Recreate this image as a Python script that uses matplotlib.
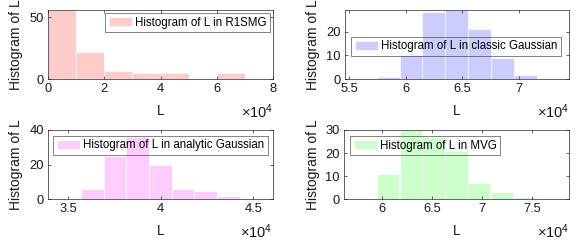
import numpy as np
import matplotlib
matplotlib.use("Agg")
import matplotlib.pyplot as plt
from matplotlib.ticker import FuncFormatter

plt.rcParams['font.family'] = ['Liberation Sans', 'DejaVu Sans']
plt.rcParams['mathtext.fontset'] = 'custom'
plt.rcParams['mathtext.rm'] = 'Liberation Sans'
plt.rcParams['mathtext.it'] = 'Liberation Sans'

# ---- data ----
r1smg_edges = [0, 10000, 20000, 30000, 40000, 50000, 60000, 70000]
r1smg_counts = [56, 22, 7, 5, 5, 0, 5]

classic_edges = [57450, 59470, 61480, 63500, 65510, 67530, 69540, 71560]
classic_counts = [1, 10, 28, 29, 21, 9, 2]

analytic_edges = [35690, 36920, 38140, 39370, 40590, 41820, 43050, 44280]
analytic_counts = [6, 25, 36, 20, 6, 5, 2]

mvg_edges = [59440, 61720, 63990, 66270, 68540, 70820, 73100, 75370]
mvg_counts = [11, 30, 27, 21, 7, 3, 1]

labels = ["Histogram of L in R1SMG", "Histogram of L in classic Gaussian",
          "Histogram of L in analytic Gaussian", "Histogram of L in MVG"]

xticks = [[0, 20000, 40000, 60000, 80000],
          [55000, 60000, 65000, 70000],
          [35000, 40000, 45000],
          [60000, 65000, 70000, 75000]]
yticks = [[0, 50], [0, 10, 20], [0, 20, 40], [0, 10, 20, 30]]
xlims = [(0, 80000), (54620, 74420), (33920, 46050), (56170, 78700)]
ylims = [(0, 56), (0, 29), (0, 40), (0, 30)]

colors = [(1, 0.8, 0.8), (0.8, 0.8, 1), (1, 0.8, 1), (0.8, 1, 0.8)]

W, H = 586, 246
fig = plt.figure(figsize=(W / 100, H / 100), dpi=100)

# axes boxes in pixels: left, top, right, bottom
boxes = [(48, 10, 273, 79.3), (344.7, 10, 569, 79.3),
         (48.3, 130, 272.7, 199.3), (344, 130, 569.3, 199.3)]
ylab_right = [23.5, 320.0, 23.5, 320.0]
# legend anchors in axes coords
leg_specs = [("upper right", (0.987, 0.952)), ("upper left", (0.029, 0.615)),
             ("upper left", (0.022, 0.913)), ("upper left", (0.028, 0.909))]

edges_all = [r1smg_edges, classic_edges, analytic_edges, mvg_edges]
counts_all = [r1smg_counts, classic_counts, analytic_counts, mvg_counts]

fmt = FuncFormatter(lambda v, p: "%g" % (v / 1e4))
axcol = (0.15, 0.15, 0.15)
txtcol = (0.1, 0.1, 0.1)

for i in range(4):
    l, t, r, b = boxes[i]
    ax = fig.add_axes([l / W, (H - b) / H, (r - l) / W, (b - t) / H])
    e = np.array(edges_all[i], dtype=float)
    ax.bar(e[:-1], counts_all[i], width=np.diff(e), align='edge',
           color=colors[i], edgecolor=(1, 1, 1, 0.8), linewidth=0.6,
           label=labels[i])
    ax.set_xlim(*xlims[i])
    ax.set_ylim(*ylims[i])
    ax.set_xticks(xticks[i])
    ax.set_yticks(yticks[i])
    ax.xaxis.set_major_formatter(fmt)
    ax.tick_params(direction='in', length=2.5, width=0.5, colors=axcol,
                   labelsize=9.3, pad=3, top=True, right=True)
    ax.tick_params(axis='both', labelcolor=txtcol)
    for s in ax.spines.values():
        s.set_color(axcol)
        s.set_linewidth(0.5)
    ax.set_xlabel("L", fontsize=10, color=txtcol)
    ax.xaxis.set_label_coords(0.5, -0.35)
    ax.set_ylabel("Histogram of L", fontsize=10, color=txtcol)
    ax.yaxis.set_label_coords((ylab_right[i] - l) / (r - l), 0.5)
    ax.text(1.0, -0.47, r"$\times10^{4}$", transform=ax.transAxes,
            ha='right', va='center', fontsize=10.5, color=txtcol)
    loc, anchor = leg_specs[i]
    leg = ax.legend(loc=loc, bbox_to_anchor=anchor, borderaxespad=0,
                    fontsize=8.3, handlelength=2.0, handleheight=0.8,
                    handletextpad=0.3, borderpad=0.3, fancybox=False,
                    frameon=True)
    leg.get_frame().set_facecolor('none')
    leg.get_frame().set_edgecolor(axcol)
    leg.get_frame().set_linewidth(0.5)

fig.savefig("out.png", dpi=100)
